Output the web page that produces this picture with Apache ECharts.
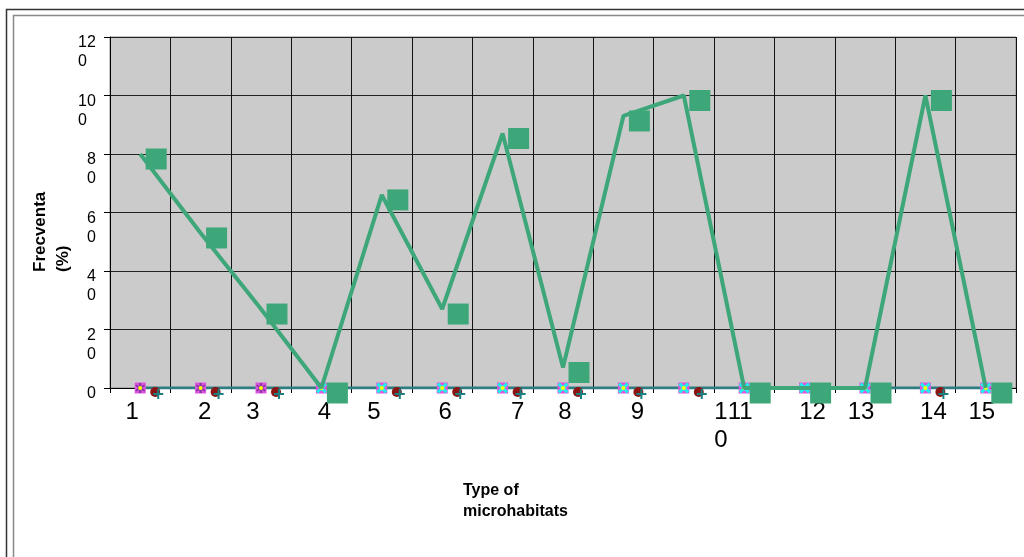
<!DOCTYPE html>
<html>
<head>
<meta charset="utf-8">
<script src="https://cdn.jsdelivr.net/npm/echarts@6/dist/echarts.min.js"></script>
<style>html,body{margin:0;padding:0;background:#fff;}#c{width:1024px;height:557px;}</style>
</head>
<body>
<div id="c"></div>
<script>
// ---- data ----
var categories = ['1','2','3','4','5','6','7','8','9','10','11','12','13','14','15'];
var frecventa = [80, 53, 27, 0, 66, 27, 87, 7, 93, 100, 0, 0, 0, 100, 0];
var zeroLine = [0,0,0,0,0,0,0,0,0,0,0,0,0,0,0];
var zeroA = [0,0,0,0,0,0,0,0,0,0,0,0,0,0,0];
var zeroB = [null,null,null,0,0,0,0,0,0,0,0,0,0,0,0];
var zeroC = [0,0,0,null,null,null,null,null,null,null,null,null,null,null,null];
var zeroD = [0,0,0,0,0,0,0,0,0,0,0,0,0,0,0];
var zeroE = [0,0,0,0,0,0,0,0,0,0,0,0,0,0,0];
var yTicks = ['0','20','40','60','80','100','120'];
var xTitle = 'Type of\nmicrohabitats';
var yTitle = 'Frecventa\n(%)';

// ---- styling (label shifts in px, not data) ----
var labelShift = [-8, 4, -8, 3, -8, 3, 15, 2, 14, 37, -4, 8, -4, 8, -4];
var wrapped = {'10': '1\n0'};

var rich = {};
labelShift.forEach(function (d, i) {
  rich['s' + i] = {
    fontFamily: 'Arial, Liberation Sans, sans-serif', fontSize: 24, color: '#000', lineHeight: 28,
    padding: d >= 0 ? [0, 0, 0, 2 * d] : [0, -2 * d, 0, 0]
  };
});

var chart = echarts.init(document.getElementById('c'), null, {renderer: 'canvas'});
var crossPath = 'path://M0,2L2,0L5,3L8,0L10,2L7,5L10,8L8,10L5,7L2,10L0,8L3,5Z';
var plusPath = 'path://M4,0H6V4H10V6H6V10H4V6H0V4H4Z';
var starPath = 'path://M4,0H6V3.3L8.6,1.4L9.4,2.6L6.8,5L9.4,7.4L8.6,8.6L6,6.7V10H4V6.7L1.4,8.6L0.6,7.4L3.2,5L0.6,2.6L1.4,1.4L4,3.3Z';
var F = 'Arial, Liberation Sans, sans-serif';

function yl(lh, w) {
  return {fontFamily: F, fontSize: 16, color: '#000', lineHeight: lh, width: w, align: 'left'};
}

chart.setOption({
  animation: false,
  backgroundColor: '#fff',
  grid: {left: 110, top: 37, width: 906, height: 351, show: true, backgroundColor: '#cbcbcb', borderColor: '#8a8a8a', borderWidth: 1},
  graphic: [
    {type: 'rect', shape: {x: 6.5, y: 9.5, width: 1100, height: 700}, style: {fill: 'none', stroke: '#333', lineWidth: 1.5}, silent: true},
    {type: 'rect', shape: {x: 13.5, y: 15.5, width: 1100, height: 700}, style: {fill: 'none', stroke: '#888', lineWidth: 1.5}, silent: true},
    {type: 'text', x: 52, y: 272, rotation: Math.PI / 2,
     style: {text: yTitle, font: 'bold 17px ' + F, fill: '#000', align: 'left', verticalAlign: 'middle', lineHeight: 23}},
    {type: 'text', x: 463, y: 501,
     style: {text: xTitle, font: 'bold 16px ' + F, fill: '#000', align: 'left', verticalAlign: 'middle', lineHeight: 21}}
  ],
  xAxis: {
    type: 'category', data: categories, boundaryGap: true,
    axisLine: {show: true, lineStyle: {color: '#000', width: 1}},
    axisTick: {show: true, length: 5, lineStyle: {color: '#000'}},
    splitLine: {show: true, lineStyle: {color: '#111', width: 1}},
    axisLabel: {
      interval: 0, margin: 10, rich: rich,
      formatter: function (v, i) {
        var t = wrapped[v] || v;
        return t.split('\n').map(function (p) { return '{s' + i + '|' + p + '}'; }).join('\n');
      }
    }
  },
  yAxis: {
    type: 'value', min: 0, max: 120, interval: 20,
    axisLine: {show: true, lineStyle: {color: '#000', width: 1}},
    axisTick: {show: true, length: 6, lineStyle: {color: '#000'}},
    splitLine: {show: true, lineStyle: {color: '#222', width: 1}},
    axisLabel: {
      margin: 14, verticalAlign: 'top',
      formatter: function (v) {
        var s = yTicks[yTicks.indexOf(String(v))] || String(v);
        if (s.length < 2) return '{a1|' + s + '}';
        var k = s.length - 1;
        return '{a' + k + '|' + s.slice(0, k) + '}\n{b' + k + '|' + s.slice(k) + '}';
      },
      rich: {
        a1: yl(12, 9), b1: yl(26, 9),
        a2: yl(12, 18), b2: yl(26, 18)
      }
    }
  },
  series: [
    {type: 'line', data: zeroLine, showSymbol: false, lineStyle: {color: '#2e7d82', width: 3}, z: 2},
    {type: 'scatter', data: zeroA, symbol: 'rect', symbolSize: 11, itemStyle: {color: '#dd55dd', opacity: 1}, z: 3},
    {type: 'scatter', data: zeroC, symbol: starPath, symbolSize: 10, itemStyle: {color: '#8833aa', opacity: 1}, z: 4},
    {type: 'scatter', data: zeroB, symbol: crossPath, symbolSize: 11, itemStyle: {color: '#22eeee', opacity: 1}, z: 4},
    {type: 'scatter', data: zeroA, symbol: 'circle', symbolSize: 4, itemStyle: {color: '#ffff00', opacity: 1}, z: 5},
    {type: 'scatter', data: zeroD, symbol: 'circle', symbolSize: 10, symbolOffset: [15, 4], itemStyle: {color: '#8b1414', opacity: 1}, z: 3},
    {type: 'scatter', data: zeroE, symbol: plusPath, symbolSize: 10, symbolOffset: [18, 6], itemStyle: {color: '#1a8080', opacity: 1}, z: 4},
    {type: 'line', data: frecventa, showSymbol: false, lineStyle: {color: '#3da77a', width: 4}, z: 6},
    {type: 'scatter', data: frecventa, symbol: 'rect', symbolSize: 21, symbolOffset: [16, 5], itemStyle: {color: '#3da77a', opacity: 1}, z: 7}
  ]
});
</script>
</body>
</html>
